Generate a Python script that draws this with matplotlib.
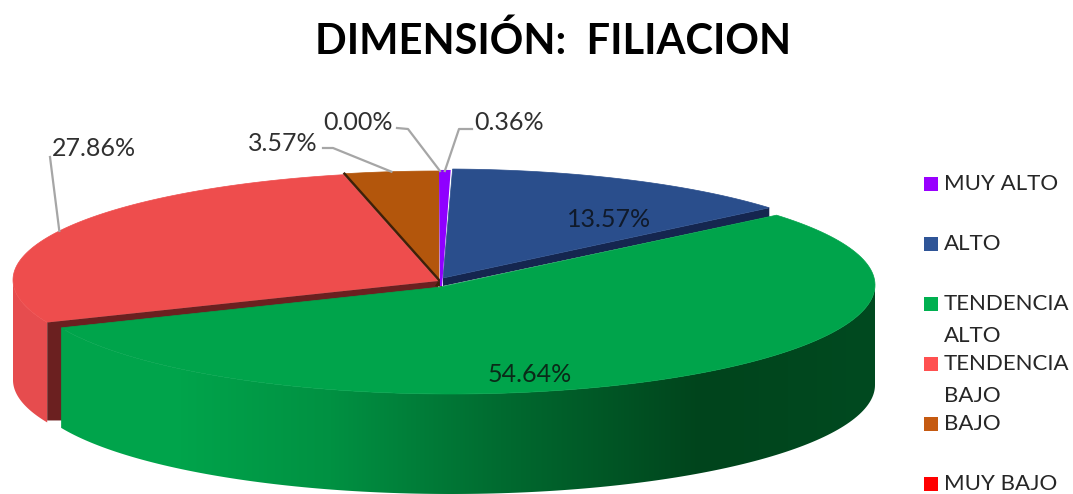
import numpy as np
import matplotlib
matplotlib.use("Agg")
import matplotlib.pyplot as plt
from matplotlib.patches import Polygon, Rectangle

plt.rcParams['font.family'] = ['Lato', 'DejaVu Sans']

# datos del grafico
categorias = ["MUY ALTO", "ALTO", "TENDENCIA\nALTO", "TENDENCIA\nBAJO", "BAJO", "MUY BAJO"]
porcentajes = [0.36, 13.57, 54.64, 27.86, 3.57, 0.00]
titulo = "DIMENSIÓN:  FILIACION"

# colores: cara superior, corte oscuro, leyenda
color_top = ['#8f00ff', '#2a4e8c', '#00a44b', '#ee4d4d', '#b3560c', '#ff0000']
color_leg = ['#9900ff', '#2f5597', '#00b050', '#ff5050', '#c55a11', '#ff0000']

# cada sector tiene su propia elipse (cx, cy, rx, ry) y vertice (ax, ay), en pixeles
elipses = [(440, 281, 425, 110), (443, 277, 425, 108), (451, 285, 424, 109),
           (438, 280, 425, 108), (439, 281, 425, 110), (440, 281, 425, 110)]
vertices = [(441, 286), (443, 278), (441, 287), (438, 281), (439, 280), (440, 281)]
prof = 100

# angulos a partir de los valores, sentido horario desde arriba
limites = np.cumsum([0] + porcentajes) / sum(porcentajes) * 2 * np.pi


def punto(i, t):
    cx, cy, rx, ry = elipses[i]
    return cx + rx * np.sin(t), cy - ry * np.cos(t)


def arco(i, t0, t1, n=150):
    t = np.linspace(t0, t1, n)
    x, y = punto(i, t)
    return np.column_stack([x, y])


def sector(i):
    return np.vstack([[vertices[i]], arco(i, limites[i], limites[i + 1])])


def lateral(i, t0, t1):
    a = arco(i, t0, t1)
    b = a[::-1] + [0, prof]
    return np.vstack([a, b])


fig = plt.figure(figsize=(10.73, 4.94), dpi=100)
ax = fig.add_axes([0, 0, 1, 1])
ax.set_xlim(0, 1073)
ax.set_ylim(494, 0)
ax.axis('off')
ax.autoscale(False)

# TENDENCIA BAJO: lateral, corte y cara superior
ax.add_patch(Polygon(lateral(3, limites[3], 1.5 * np.pi), fc='#e64c4e', ec='none', zorder=1))
ax.add_patch(Polygon(sector(3), fc=color_top[3], ec=color_top[3], lw=0.5, zorder=2))
px, py = punto(3, limites[3])
ax.add_patch(Polygon([(px, py), vertices[3], (vertices[3][0], vertices[3][1] + 8),
                      (px + 16, py + 8), (px + 16, py + prof - 2), (px, py + prof - 2)],
                     fc='#6b2020', ec='none', zorder=3))

# BAJO
ax.add_patch(Polygon(sector(4), fc=color_top[4], ec=color_top[4], lw=0.5, zorder=4))
px, py = punto(4, limites[4])
ax.plot([px, vertices[4][0]], [py, vertices[4][1]], color='#3f2008', lw=1.8, zorder=5)
ax.add_patch(Polygon([vertices[4], (vertices[4][0] + 3, vertices[4][1]),
                      (vertices[4][0] + 3, vertices[4][1] + 7), (vertices[4][0] - 4, vertices[4][1] + 6)],
                     fc='#3f2008', ec='none', zorder=5))

# ALTO
px, py = punto(1, limites[2])
ax.add_patch(Polygon([vertices[1], (px, py), (px, py + 9), (vertices[1][0], vertices[1][1] + 8)],
                     fc='#15264f', ec='none', zorder=5))
ax.add_patch(Polygon(sector(1), fc=color_top[1], ec=color_top[1], lw=0.5, zorder=6))

# MUY ALTO
ax.add_patch(Polygon(sector(0), fc=color_top[0], ec=color_top[0], lw=1.5, zorder=7))

# TENDENCIA ALTO: lateral con degradado
stops_x = [61, 180, 330, 500, 700, 875]
stops_c = np.array([[0, 164, 75], [0, 164, 75], [0, 145, 66], [0, 107, 48], [0, 68, 28], [0, 74, 32]]) / 255
xs = np.arange(40, 890)
grad = np.stack([np.interp(xs, stops_x, stops_c[:, k]) for k in range(3)], axis=-1)[np.newaxis, :, :]
lat = Polygon(lateral(2, 0.5 * np.pi, limites[3]), fc='none', ec='none', transform=ax.transData)
ax.add_patch(lat)
im = ax.imshow(grad, extent=[40, 890, 494, 200], aspect='auto', zorder=8)
im.set_clip_path(lat)
ax.add_patch(Polygon(sector(2), fc=color_top[2], ec=color_top[2], lw=0.5, zorder=9))

# lineas guia: del codo de la etiqueta al punto medio del arco
guias = {0: [(472, 129), (459, 129)], 5: [(397, 128), (408, 129)],
         4: [(323, 148), (333, 148)], 3: [(50, 157)]}
for i, codo in guias.items():
    fin = punto(i, (limites[i] + limites[i + 1]) / 2)
    if i == 5:
        fin = punto(i, 2 * np.pi)
    pts = np.array(codo + [fin])
    ax.plot(pts[:, 0], pts[:, 1], color='#a6a6a6', lw=1.6, zorder=10)

# etiquetas de porcentaje
pos_etq = [(509, 122), (609, 219), (530, 374), (94, 148), (283, 143), (358, 122)]
for i, (x, y) in enumerate(pos_etq):
    c = '#101a2a' if i == 1 else '#0a2a18' if i == 2 else '#303030'
    ax.text(x, y, f"{porcentajes[i]:.2f}%", fontsize=18, color=c, ha='center', va='center', zorder=11)

ax.text(553, 41, titulo, fontsize=30, fontweight='bold', color='black', ha='center', va='center')

# leyenda
for i, nombre in enumerate(categorias):
    y = 183.5 + i * 60
    ax.add_patch(Rectangle((924, y - 7), 14, 14, fc=color_leg[i], ec='none'))
    for k, linea in enumerate(nombre.split("\n")):
        ax.text(944, y + k * 32.5, linea, fontsize=16, color='#262626', ha='left', va='center')

fig.savefig("out.png", dpi=100)
